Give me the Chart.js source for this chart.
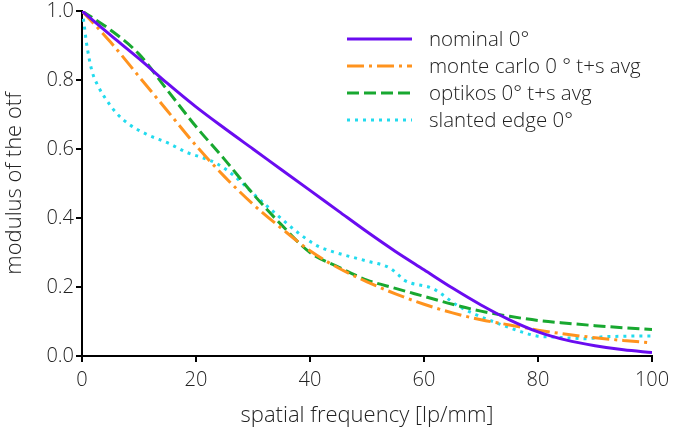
<!DOCTYPE html>
<html lang="en">
<head>
  <meta charset="UTF-8">
  <title>MTF</title>
  <script src="https://cdn.jsdelivr.net/npm/chart.js"></script>
  <style>
    html, body { margin: 0; padding: 0; background: #fff; }
    #wrap { width: 673px; height: 431px; }
  </style>
</head>
<body>
  <div id="wrap"><canvas id="MtfChart"></canvas></div>
  <script>
    // spatial frequency grid used by the three smooth curves
    const freqStep = [0, 5, 10, 15, 20, 25, 30, 35, 40, 45, 50, 55, 60, 65, 70, 75, 80, 85, 90, 95, 100];
    const nominalMtf = [1.0, 0.93, 0.862, 0.79, 0.722, 0.66, 0.60, 0.54, 0.48, 0.42, 0.36, 0.303, 0.25, 0.197, 0.148, 0.105, 0.07, 0.046, 0.03, 0.018, 0.01];
    const monteCarloMtf = [1.0, 0.91, 0.81, 0.71, 0.61, 0.52, 0.44, 0.37, 0.305, 0.255, 0.215, 0.18, 0.15, 0.125, 0.105, 0.09, 0.075, 0.063, 0.053, 0.045, 0.038];
    const optikosMtf = [1.0, 0.945, 0.875, 0.77, 0.665, 0.57, 0.47, 0.38, 0.30, 0.258, 0.22, 0.196, 0.173, 0.15, 0.13, 0.115, 0.103, 0.095, 0.088, 0.082, 0.077];

    // slanted edge measurement, irregular frequency samples
    const freqEdge = [0, 0.3, 0.8, 1.7, 2.9, 4.3, 6.1, 8.4, 11.3, 15.4, 18.4, 21.3, 23.6, 26.5, 30.6, 34.2, 37.7, 41.2, 44.1, 50, 54, 55.5, 56.5, 61.6, 66, 69.2, 72.1, 74.5, 77.1, 79.8, 82.7, 85.6, 88.5, 91.5, 94.4, 97.3, 100];
    const edgeMtf = [1.0, 0.97, 0.906, 0.829, 0.78, 0.742, 0.703, 0.67, 0.643, 0.615, 0.59, 0.574, 0.558, 0.525, 0.462, 0.409, 0.36, 0.32, 0.302, 0.275, 0.255, 0.235, 0.22, 0.195, 0.145, 0.119, 0.1, 0.085, 0.07, 0.058, 0.055, 0.052, 0.05, 0.056, 0.057, 0.058, 0.058];

    const xTicks = [0, 20, 40, 60, 80, 100];
    const yTicks = [0, 0.2, 0.4, 0.6, 0.8, 1.0];

    const series = [
      ['nominal 0°', freqStep, nominalMtf, '#6a0cf0', []],
      ['monte carlo 0 ° t+s avg', freqStep, monteCarloMtf, '#ff931e', [17, 5, 3, 5]],
      ['optikos 0° t+s avg', freqStep, optikosMtf, '#18a830', [12, 5]],
      ['slanted edge 0°', freqEdge, edgeMtf, '#22dbee', [3, 5]]
    ];

    const datasets = series.map(s => ({
      label: s[0],
      data: s[1].map((f, i) => ({ x: f, y: s[2][i] })),
      borderColor: s[3],
      backgroundColor: s[3],
      borderDash: s[4],
      borderWidth: 3,
      pointRadius: 0,
      cubicInterpolationMode: 'monotone',
      fill: false
    }));

    const FONT = '"Open Sans", "DejaVu Sans", sans-serif';

    // legend drawn in the upper right of the plot, matplotlib style
    const lineLegend = {
      id: 'lineLegend',
      afterDraw(chart) {
        const ctx = chart.ctx;
        ctx.save();
        chart.data.datasets.forEach((ds, i) => {
          const y = 39 + i * 27;
          ctx.beginPath();
          ctx.setLineDash(ds.borderDash);
          ctx.lineWidth = 3;
          ctx.strokeStyle = ds.borderColor;
          ctx.moveTo(347, y);
          ctx.lineTo(412, y);
          ctx.stroke();
          ctx.setLineDash([]);
          ctx.fillStyle = '#222';
          ctx.font = '300 20.5px ' + FONT;
          ctx.textBaseline = 'middle';
          ctx.fillText(ds.label, 429, y + 1);
        });
        ctx.restore();
      }
    };

    new Chart(document.getElementById('MtfChart'), {
      type: 'line',
      data: { datasets: datasets },
      plugins: [lineLegend],
      options: {
        responsive: true,
        maintainAspectRatio: false,
        animation: false,
        layout: { padding: { top: 11, right: 21, left: 0, bottom: 0 } },
        plugins: {
          legend: { display: false },
          tooltip: { enabled: false }
        },
        scales: {
          x: {
            type: 'linear',
            min: 0,
            max: 100,
            afterFit: s => { s.height = 75; s.paddingRight = 21; },
            afterBuildTicks: s => { s.ticks = xTicks.map(v => ({ value: v })); },
            ticks: {
              color: '#222',
              font: { family: FONT, size: 20, weight: 300 },
              padding: 6,
              maxRotation: 0
            },
            grid: { display: true, drawOnChartArea: false, color: '#000', lineWidth: 2, tickLength: 6 },
            border: { display: true, color: '#000', width: 2 },
            title: {
              display: true,
              text: 'spatial frequency [lp/mm]',
              color: '#222',
              font: { family: FONT, size: 22, weight: 300 },
              padding: { top: 0, bottom: 2 }
            }
          },
          y: {
            min: 0,
            max: 1,
            afterFit: s => { s.width = 82; s.paddingTop = 11; },
            afterBuildTicks: s => { s.ticks = yTicks.map(v => ({ value: v })); },
            ticks: {
              color: '#222',
              font: { family: FONT, size: 20, weight: 300 },
              padding: 2,
              callback: v => Number(v).toFixed(1)
            },
            grid: { display: true, drawOnChartArea: false, color: '#000', lineWidth: 2, tickLength: 6 },
            border: { display: true, color: '#000', width: 2 },
            title: {
              display: true,
              text: 'modulus of the otf',
              color: '#222',
              font: { family: FONT, size: 22, weight: 300 },
              padding: { top: 2, bottom: 4 }
            }
          }
        }
      }
    });
  </script>
</body>
</html>
